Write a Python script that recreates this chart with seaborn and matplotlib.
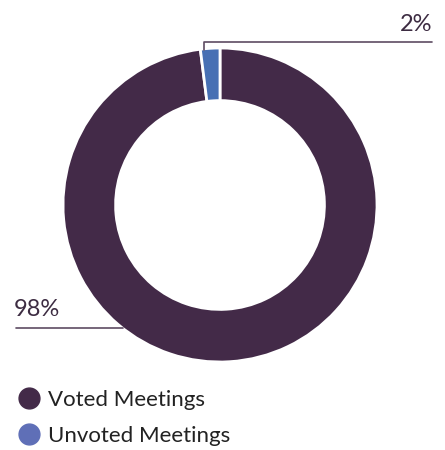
import matplotlib
matplotlib.use("Agg")
import matplotlib.pyplot as plt
from matplotlib.lines import Line2D
import seaborn as sns

categories = ["Voted Meetings", "Unvoted Meetings"]
shares = [98, 2]
pct_labels = ["98%", "2%"]
slice_colors = ["#432a48", "#4770b4"]
legend_colors = ["#432a48", "#5f6fb7"]
line_color = "#5e4c62"
text_color = "#3d2c42"

sns.set_theme(style="white")
plt.rcParams["font.family"] = ["Lato", "DejaVu Sans"]

W, H = 445, 450
fig = plt.figure(figsize=(W / 100, H / 100), dpi=100)
ax = fig.add_axes([0, 0, 1, 1])
ax.set_xlim(0, W)
ax.set_ylim(0, H)
ax.set_aspect("equal")
ax.axis("off")

cx, cy, r = 220, H - 205, 157
ax.pie(shares, colors=slice_colors, startangle=90, counterclock=False,
       center=(cx, cy), radius=r,
       wedgeprops=dict(width=r * 0.335, edgecolor="white", linewidth=2))
ax.set_xlim(0, W)
ax.set_ylim(0, H)

# 2% leader
ax.plot([204, 204, 432], [H - 50, H - 42, H - 42], color=line_color, lw=1.2)
ax.text(432, H - 35, pct_labels[1], ha="right", va="bottom", fontsize=17,
        color=text_color)
# 98% leader
ax.plot([16, 123], [H - 328, H - 328], color=line_color, lw=1.2)
ax.text(14, H - 320, pct_labels[0], ha="left", va="bottom", fontsize=17,
        color=text_color)

handles = [Line2D([0], [0], marker="o", color="none", markerfacecolor=c,
                  markeredgecolor=c, markersize=15) for c in legend_colors]
ax.legend(handles, categories, loc="upper left", frameon=False,
          bbox_to_anchor=(0.015, 1 - 381 / H), fontsize=16,
          handletextpad=0.25, labelspacing=0.72, handlelength=1.2,
          borderaxespad=0, labelcolor="#222222")

fig.savefig("out.png", dpi=100)
